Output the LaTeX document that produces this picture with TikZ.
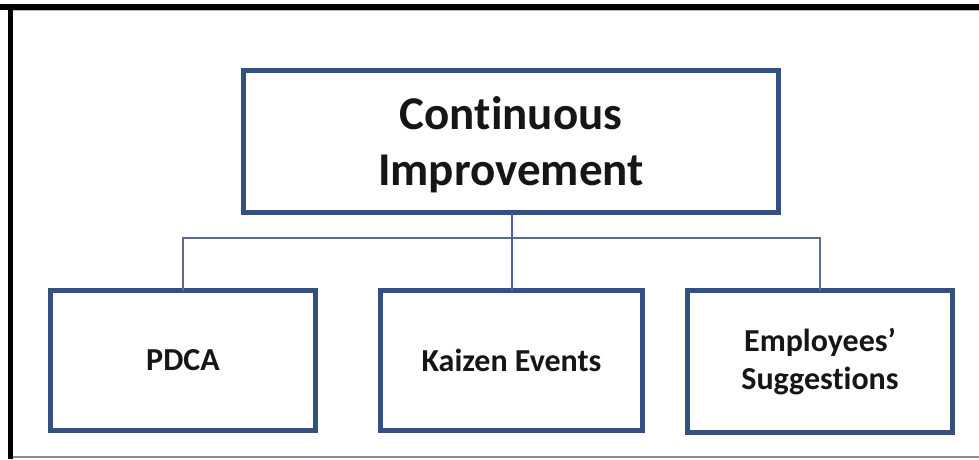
\documentclass[tikz,border=0pt]{standalone}
\usepackage{fontspec}
\setmainfont{Carlito}[Ligatures=NoCommon]
\definecolor{boxline}{HTML}{34507E}
\definecolor{linkline}{HTML}{5C6C88}
\definecolor{linkblue}{HTML}{4A5DB0}
\definecolor{txt}{HTML}{161616}
\tikzset{
  chartbox/.style={draw=boxline, line width=5pt, fill=white, rectangle,
    inner sep=0pt, outer sep=0pt, align=center, text=txt, font=\bfseries},
  link/.style={draw=linkline, line width=2pt},
}
\begin{document}
\begin{tikzpicture}[x=1pt,y=-1pt]
  % canvas
  \fill[white] (0,0) rectangle (979,459);
  \useasboundingbox (0,0) rectangle (979,459);
  % outer frame
  \fill[black] (0,4) rectangle (979,9.5);
  \draw[black!30, line width=1pt] (13,10.5) -- (979,10.5);
  \fill[black] (7.5,4) rectangle (13,459);
  \draw[black!45, line width=1.5pt] (13,457) -- (979,457);

  % boxes
  \node[chartbox, minimum width=535pt, minimum height=142pt,
        font=\fontsize{47}{56}\selectfont\bfseries] (top) at (511,141.5)
        {\raisebox{-5pt}[\height][\depth]{\begin{tabular}{@{}c@{}}Continuous\\Improvement\end{tabular}}};
  \node[chartbox, minimum width=265pt, minimum height=140pt,
        font=\fontsize{32}{38}\selectfont\bfseries] (pdca) at (183,360.5) {PDCA};
  \node[chartbox, minimum width=262pt, minimum height=140pt,
        font=\fontsize{32}{38}\selectfont\bfseries] (kaizen) at (511.5,360.5) {Kaizen Events};
  \node[chartbox, minimum width=265pt, minimum height=142pt,
        font=\fontsize{32}{38}\selectfont\bfseries] (emp) at (820,361.5) {Employees’\\Suggestions};

  % connectors
  \coordinate (bar) at (511.5,238);
  \draw[link] (pdca.north) |- (bar) -| (emp.north);
  \draw[link, draw=linkblue] (kaizen.north |- top.south) -- (kaizen.north);
\end{tikzpicture}
\end{document}
